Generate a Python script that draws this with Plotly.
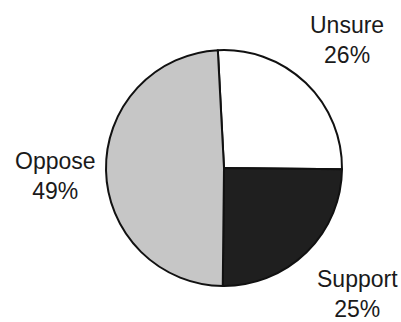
import plotly.graph_objects as go

labels = ["Unsure", "Support", "Oppose"]
values = [26, 25, 49]
colors = ["#ffffff", "#1f1f1f", "#c6c6c6"]

# label positions in pixels (x, y from top) for the outside captions
label_px = {"Unsure": (347, 40), "Support": (357, 294), "Oppose": (56, 176)}

W, H = 401, 322

fig = go.Figure(
    go.Pie(
        labels=labels,
        values=values,
        sort=False,
        direction="clockwise",
        rotation=-3,
        marker=dict(colors=colors, line=dict(color="#111111", width=2)),
        textinfo="none",
        hoverinfo="label+percent",
        domain=dict(x=[106 / W, 342 / W], y=[1 - 287 / H, 1 - 49 / H]),
        showlegend=False,
    )
)

for lab, val in zip(labels, values):
    px_x, px_y = label_px[lab]
    fig.add_annotation(
        x=px_x / W,
        y=1 - px_y / H,
        xref="paper",
        yref="paper",
        text=f"{lab}<br>{val}%",
        showarrow=False,
        xanchor="center",
        yanchor="middle",
        font=dict(family="Liberation Sans, Arial, sans-serif", size=23, color="#1a1a1a"),
    )

fig.update_layout(
    width=W,
    height=H,
    margin=dict(l=0, r=0, t=0, b=0),
    paper_bgcolor="white",
    plot_bgcolor="white",
)

# drop the browser's default body margin so the figure sits at the top-left corner
fig.write_html(
    "out.html",
    config={"displayModeBar": False},
    post_script="document.body.style.margin = '0';",
)
